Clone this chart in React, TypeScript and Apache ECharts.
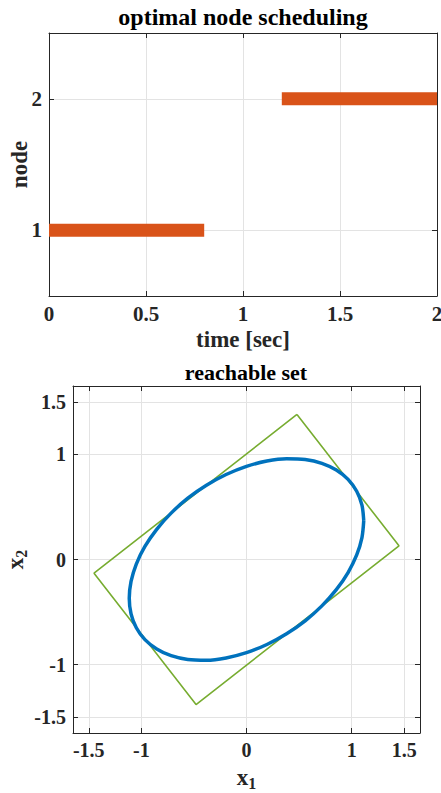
import React, { useEffect, useRef } from "react";
import * as echarts from "echarts";

// ---- data ----
const timeTicks = [0, 0.5, 1, 1.5, 2];
const nodeTicks = [1, 2];
const node1Start = [0, 1];
const node1End = [0.8, 1];
const node2Start = [1.2, 2];
const node2End = [2, 2];

const setTicks = [-1.5, -1, 0, 1, 1.5];
const boxX = [0.48, 1.45, -0.48, -1.45, 0.48];
const boxY = [1.38, 0.13, -1.38, -0.13, 1.38];
const ellipseX = [
  1.115, 1.098, 1.048, 0.966, 0.854, 0.717, 0.558, 0.381, 0.194, 0,
  -0.194, -0.381, -0.558, -0.717, -0.854, -0.966, -1.048, -1.098, -1.115,
  -1.098, -1.048, -0.966, -0.854, -0.717, -0.558, -0.381, -0.194, 0,
  0.194, 0.381, 0.558, 0.717, 0.854, 0.966, 1.048, 1.098, 1.115,
];
const ellipseY = [
  0.369, 0.517, 0.649, 0.762, 0.851, 0.915, 0.951, 0.958, 0.936, 0.886,
  0.808, 0.706, 0.583, 0.441, 0.287, 0.124, -0.043, -0.209, -0.369,
  -0.517, -0.649, -0.762, -0.851, -0.915, -0.951, -0.958, -0.936, -0.886,
  -0.808, -0.706, -0.583, -0.441, -0.287, -0.124, 0.043, 0.209, 0.369,
];

const FONT = '"Liberation Serif", "Times New Roman", serif';
const AXIS = "#262626";
const GRID = "#e3e3e3";
const ORANGE = "#D95319";
const BLUE = "#0072BD";
const GREEN = "#77AC30";

function zip(xs: number[], ys: number[]) {
  return xs.map((x, i) => [x, ys[i]]);
}

function fmt(v: number) {
  return String(v);
}

function frameAxis(gridIndex: number, position: string, min: number, max: number, ticks: number[] | null, interval: number | null, labelSize: number, main: boolean, extra: any = {}) {
  const ax: any = {
    type: "value",
    gridIndex,
    position,
    min,
    max,
    nameMoveOverlap: false,
    axisLine: { show: true, onZero: false, lineStyle: { color: AXIS, width: 1 } },
    axisTick: { show: true, inside: true, length: 5, lineStyle: { color: AXIS, width: 1 } },
    axisLabel: {
      show: main,
      color: AXIS,
      fontFamily: FONT,
      fontWeight: "bold",
      fontSize: labelSize,
      formatter: fmt,
      margin: 7,
    },
    splitLine: { show: main, lineStyle: { color: GRID, width: 1 } },
    ...extra,
  };
  if (interval != null) ax.interval = interval;
  if (ticks) {
    ax.axisTick.customValues = ticks;
    ax.axisLabel.customValues = ticks;
  }
  return ax;
}

export default function App() {
  const ref = useRef<HTMLDivElement>(null);
  useEffect(() => {
    if (!ref.current) return;
    const chart = echarts.init(ref.current, null, { renderer: "svg" });
    const nameStyle = { fontFamily: FONT, fontWeight: "bold", fontSize: 23, color: "#262626" };
    const subRich = {
      x: { fontFamily: FONT, fontWeight: "bold", fontSize: 23, color: "#262626" },
      s: { fontFamily: FONT, fontWeight: "bold", fontSize: 16, color: "#262626", padding: [12, 0, 0, 0] },
    };
    const option: any = {
      animation: false,
      backgroundColor: "#ffffff",
      grid: [
        { left: 49, right: 4, top: 33, height: 263, outerBoundsMode: "none", containLabel: false },
        { left: 73, right: 21, top: 386, height: 347, outerBoundsMode: "none", containLabel: false },
      ],
      xAxis: [
        frameAxis(0, "bottom", 0, 2, null, 0.5, 21, true, {
          name: "time [sec]",
          nameLocation: "middle",
          nameGap: 32,
          nameTextStyle: nameStyle,
        }),
        frameAxis(0, "top", 0, 2, null, 0.5, 21, false),
        frameAxis(1, "bottom", -1.65, 1.65, setTicks, null, 20, true, {
          name: "{x|x}{s|1}",
          nameLocation: "middle",
          nameGap: 30,
          nameTextStyle: { ...nameStyle, rich: subRich },
        }),
        frameAxis(1, "top", -1.65, 1.65, setTicks, null, 20, false),
      ],
      yAxis: [
        frameAxis(0, "left", 0.5, 2.5, nodeTicks, null, 21, true, {
          name: "node",
          nameLocation: "middle",
          nameGap: 18,
          nameRotate: 90,
          nameTextStyle: nameStyle,
        }),
        frameAxis(0, "right", 0.5, 2.5, nodeTicks, null, 21, false),
        frameAxis(1, "left", -1.65, 1.65, setTicks, null, 20, true, {
          name: "{x|x}{s|2}",
          nameLocation: "middle",
          nameGap: 44,
          nameRotate: 90,
          nameTextStyle: { ...nameStyle, rich: subRich },
        }),
        frameAxis(1, "right", -1.65, 1.65, setTicks, null, 20, false),
      ],
      graphic: [
        {
          type: "text",
          x: 243,
          y: 17,
          style: { text: "optimal node scheduling", font: `bold 24px ${FONT}`, fill: "#000", align: "center", verticalAlign: "middle" },
        },
        {
          type: "text",
          x: 246,
          y: 372,
          style: { text: "reachable set", font: `bold 22px ${FONT}`, fill: "#000", align: "center", verticalAlign: "middle" },
        },
      ],
      series: [
        {
          type: "line",
          xAxisIndex: 0,
          yAxisIndex: 0,
          data: [node1Start, node1End],
          showSymbol: false,
          lineStyle: { color: ORANGE, width: 13, cap: "butt" },
          silent: true,
        },
        {
          type: "line",
          xAxisIndex: 0,
          yAxisIndex: 0,
          data: [node2Start, node2End],
          showSymbol: false,
          lineStyle: { color: ORANGE, width: 13, cap: "butt" },
          silent: true,
        },
        {
          type: "line",
          xAxisIndex: 2,
          yAxisIndex: 2,
          data: zip(boxX, boxY),
          showSymbol: false,
          lineStyle: { color: GREEN, width: 1.6 },
          silent: true,
        },
        {
          type: "line",
          xAxisIndex: 2,
          yAxisIndex: 2,
          data: zip(ellipseX, ellipseY),
          showSymbol: false,
          smooth: 0.3,
          lineStyle: { color: BLUE, width: 3.5 },
          silent: true,
        },
      ],
    };
    chart.setOption(option);
    return () => chart.dispose();
  }, []);
  return (
    <div
      ref={ref}
      style={{ position: "fixed", left: 0, top: 0, width: 441, height: 793, background: "#fff" }}
    />
  );
}
